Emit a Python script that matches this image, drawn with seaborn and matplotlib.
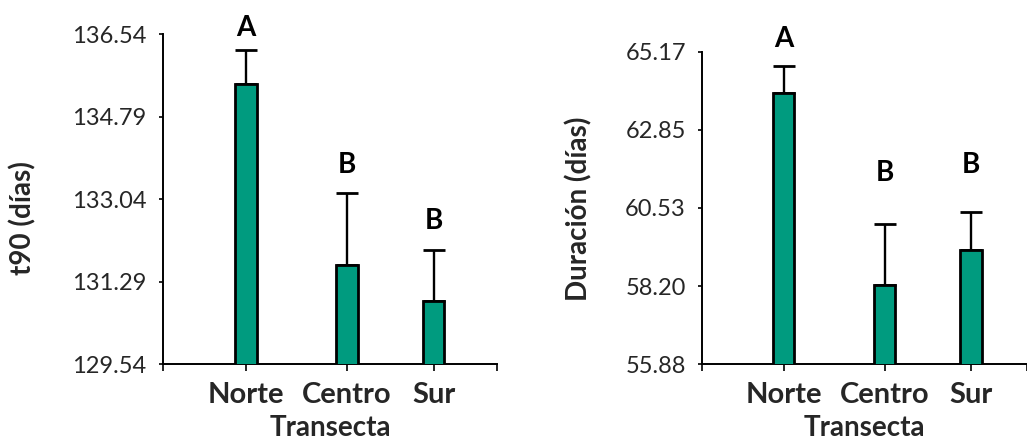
import numpy as np
import pandas as pd
import matplotlib
matplotlib.use("Agg")
import matplotlib.pyplot as plt
import seaborn as sns

# Data
transectas = ["Norte", "Centro", "Sur"]
t90_mean = [135.48, 131.64, 130.89]
t90_err = [0.73, 1.52, 1.07]
t90_letters = ["A", "B", "B"]

duracion_mean = [63.93, 58.22, 59.28]
duracion_err = [0.81, 1.82, 1.13]
duracion_letters = ["A", "B", "B"]

t90_ticks = [129.54, 131.29, 133.04, 134.79, 136.54]
duracion_ticks = [55.88, 58.20, 60.53, 62.85, 65.17]

sns.set_theme(style="white")
plt.rcParams["font.family"] = ["Lato", "DejaVu Sans"]

BAR_COLOR = "#009B7F"

fig = plt.figure(figsize=(10.27, 4.42), dpi=100)
ax1 = fig.add_axes([0.159, 0.176, 0.325, 0.747])
ax2 = fig.add_axes([0.684, 0.176, 0.316, 0.707])


def panel(ax, pos, means, errs, letters, ticks, ylabel, letter_offsets, label_xy):
    df = pd.DataFrame({"pos": pos, "valor": means})
    sns.barplot(data=df, x="pos", y="valor", native_scale=True, width=0.25,
                color=BAR_COLOR, saturation=1, edgecolor="black",
                linewidth=2.0, errorbar=None, ax=ax, zorder=3)
    ax.errorbar(pos, means, yerr=[np.zeros(len(errs)), errs], fmt="none",
                ecolor="black", elinewidth=1.7, capsize=8, capthick=2.0,
                zorder=2)
    for x, m, e, lab, off in zip(pos, means, errs, letters, letter_offsets):
        ax.annotate(lab, (x, m + e), xytext=(0, off), textcoords="offset points",
                    ha="center", va="baseline", fontsize=20, fontweight="bold",
                    color="black", annotation_clip=False)
    ax.set_xlim(0, 1)
    ax.set_ylim(ticks[0], ticks[-1])
    ax.set_yticks(ticks)
    ax.set_yticklabels([f"{t:.2f}" for t in ticks], fontsize=17)
    ax.set_xticks(pos)
    ax.set_xticklabels(transectas, fontsize=21, fontweight="bold")
    ax.set_xticks([0, 1], minor=True)
    ax.tick_params(axis="x", which="both", direction="out", length=5,
                   width=1.2, color="black", bottom=True, pad=8)
    ax.tick_params(axis="y", direction="out", length=3, width=1.2,
                   color="black", left=True, pad=9)
    ax.set_xlabel("Transecta", fontsize=20, fontweight="bold", labelpad=5)
    ax.set_ylabel(ylabel, fontsize=20, fontweight="bold")
    ax.yaxis.set_label_coords(*label_xy)
    for side in ["top", "right"]:
        ax.spines[side].set_visible(False)
    for side in ["left", "bottom"]:
        ax.spines[side].set_color("black")
        ax.spines[side].set_linewidth(1.4)
    ax.grid(False)


panel(ax1, [0.247, 0.55, 0.81], t90_mean, t90_err, t90_letters, t90_ticks,
      "t90 (días)", [10, 14.5, 15], (-0.38, 0.443))
panel(ax2, [0.25, 0.561, 0.828], duracion_mean, duracion_err, duracion_letters,
      duracion_ticks, "Duración (días)", [14, 31, 28], (-0.34, 0.497))

fig.savefig("out.png", dpi=100)
